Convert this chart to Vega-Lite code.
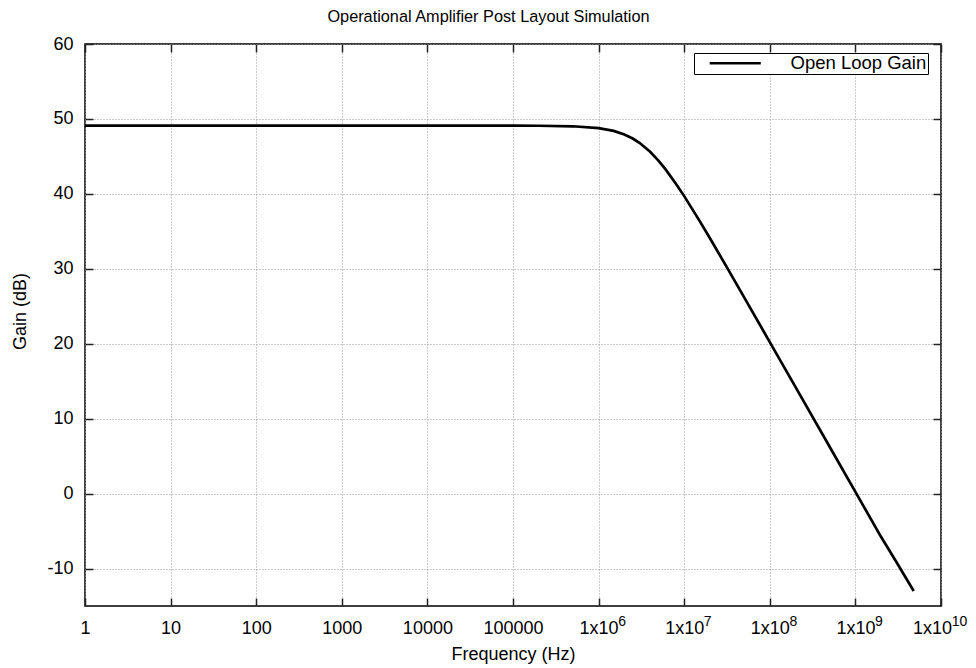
{
  "$schema": "https://vega.github.io/schema/vega-lite/v6.json",
  "width": 856,
  "height": 562,
  "autosize": "none",
  "padding": {"left": 85, "top": 44, "right": 35, "bottom": 62},
  "background": "white",
  "data": {
    "values": [
      {"f": 1, "gain": 49.1, "series": "Open Loop Gain"},
      {"f": 10, "gain": 49.1, "series": "Open Loop Gain"},
      {"f": 100, "gain": 49.1, "series": "Open Loop Gain"},
      {"f": 1000, "gain": 49.1, "series": "Open Loop Gain"},
      {"f": 10000, "gain": 49.1, "series": "Open Loop Gain"},
      {"f": 100000, "gain": 49.1, "series": "Open Loop Gain"},
      {"f": 200000, "gain": 49.09, "series": "Open Loop Gain"},
      {"f": 500000, "gain": 49.02, "series": "Open Loop Gain"},
      {"f": 1000000, "gain": 48.78, "series": "Open Loop Gain"},
      {"f": 1500000, "gain": 48.4, "series": "Open Loop Gain"},
      {"f": 2000000, "gain": 47.93, "series": "Open Loop Gain"},
      {"f": 2500000, "gain": 47.39, "series": "Open Loop Gain"},
      {"f": 3000000, "gain": 46.81, "series": "Open Loop Gain"},
      {"f": 4000000, "gain": 45.61, "series": "Open Loop Gain"},
      {"f": 5000000, "gain": 44.43, "series": "Open Loop Gain"},
      {"f": 6000000, "gain": 43.33, "series": "Open Loop Gain"},
      {"f": 8000000, "gain": 41.36, "series": "Open Loop Gain"},
      {"f": 10000000, "gain": 39.7, "series": "Open Loop Gain"},
      {"f": 15000000, "gain": 36.46, "series": "Open Loop Gain"},
      {"f": 20000000, "gain": 34.07, "series": "Open Loop Gain"},
      {"f": 30000000, "gain": 30.62, "series": "Open Loop Gain"},
      {"f": 50000000, "gain": 26.22, "series": "Open Loop Gain"},
      {"f": 100000000, "gain": 20.22, "series": "Open Loop Gain"},
      {"f": 200000000, "gain": 14.2, "series": "Open Loop Gain"},
      {"f": 500000000, "gain": 6.25, "series": "Open Loop Gain"},
      {"f": 1000000000, "gain": 0.23, "series": "Open Loop Gain"},
      {"f": 2000000000, "gain": -5.8, "series": "Open Loop Gain"},
      {"f": 3000000000, "gain": -9.1, "series": "Open Loop Gain"},
      {"f": 4800000000, "gain": -13.0, "series": "Open Loop Gain"}
    ]
  },
  "layer": [
    {
      "mark": {"type": "line", "strokeWidth": 2.7, "clip": true},
      "encoding": {
        "x": {
          "field": "f",
          "type": "quantitative",
          "scale": {"type": "log", "domain": [1, 10000000000], "nice": false},
          "axis": {
            "orient": "bottom",
            "title": "Frequency (Hz)",
            "values": [1, 10, 100, 1000, 10000, 100000, 1000000, 10000000, 100000000, 1000000000, 10000000000],
            "labelExpr": "datum.value < 1e6 ? format(datum.value, 'd') : '1x10'",
            "labelOffset": {"condition": {"test": "datum.value > 5e9", "value": -9}, "value": 0},
            "labelPadding": 21,
            "titlePadding": 8
          }
        },
        "y": {
          "field": "gain",
          "type": "quantitative",
          "scale": {"domain": [-15, 60], "nice": false, "zero": false},
          "axis": {
            "orient": "left",
            "title": "Gain (dB)",
            "values": [-10, 0, 10, 20, 30, 40, 50, 60],
            "labelExpr": "datum.value < 0 ? '-' + abs(datum.value) : '' + datum.value",
            "labelPadding": 20,
            "titlePadding": 17,
            "titleY": 267
          }
        },
        "color": {
          "field": "series",
          "type": "nominal",
          "scale": {"range": ["black"]},
          "legend": {
            "title": null,
            "orient": "none",
            "legendX": 609,
            "legendY": 9,
            "strokeColor": "black",
            "fillColor": "white",
            "padding": 1,
            "cornerRadius": 0,
            "symbolType": "M-4,0H4",
            "symbolSize": 163,
            "symbolStrokeWidth": 2.7,
            "symbolOffset": 31,
            "labelOffset": 46,
            "labelFont": "Liberation Sans",
            "labelFontSize": 18.5,
            "labelColor": "black"
          }
        }
      }
    },
    {
      "mark": {"type": "line", "strokeOpacity": 0},
      "encoding": {
        "x": {
          "field": "f",
          "type": "quantitative",
          "scale": {"type": "log", "domain": [1, 10000000000], "nice": false},
          "axis": {
            "orient": "top",
            "title": "Operational Amplifier Post Layout Simulation",
            "titleX": 403,
            "titleY": -23,
            "titleBaseline": "alphabetic",
            "titleFontSize": 16.3,
            "grid": false,
            "values": [1, 10, 100, 1000, 10000, 100000, 1000000, 10000000, 100000000, 1000000000, 10000000000],
            "labelExpr": "datum.value < 1e6 ? '' : '' + round(log(datum.value) / LN10)",
            "labelFontSize": 14,
            "labelAlign": "center",
            "labelOffset": {"condition": {"test": "datum.value > 5e9", "value": 18}, "value": 23},
            "labelBaseline": "alphabetic",
            "labelPadding": -573
          }
        },
        "y": {
          "field": "gain",
          "type": "quantitative",
          "scale": {"domain": [-15, 60], "nice": false, "zero": false},
          "axis": {
            "orient": "right",
            "title": null,
            "labels": false,
            "grid": false,
            "values": [-10, 0, 10, 20, 30, 40, 50, 60]
          }
        }
      }
    }
  ],
  "resolve": {"axis": {"x": "independent", "y": "independent"}},
  "config": {
    "view": {"stroke": "black", "strokeWidth": 1.5},
    "axis": {
      "domain": false,
      "tickSize": -8,
      "tickColor": "#222",
      "tickWidth": 1.5,
      "grid": true,
      "gridColor": "#999",
      "gridDash": [1, 2],
      "gridWidth": 1,
      "labelFont": "Liberation Sans",
      "labelFontSize": 18,
      "labelColor": "black",
      "titleFont": "Liberation Sans",
      "titleFontSize": 18,
      "titleFontWeight": "normal",
      "titleColor": "black",
      "labelFlush": false,
      "labelOverlap": false
    }
  }
}
